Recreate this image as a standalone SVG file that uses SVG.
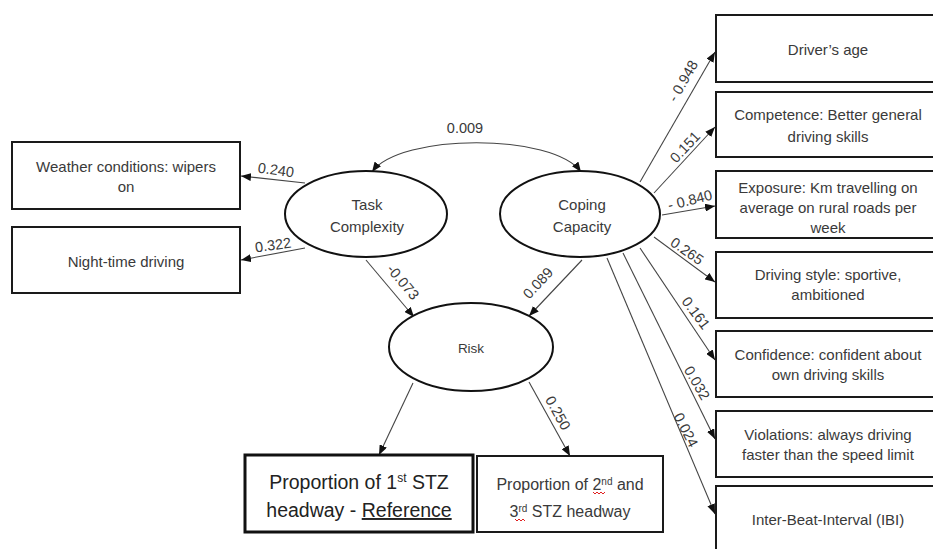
<svg xmlns="http://www.w3.org/2000/svg" width="933" height="549" viewBox="0 0 933 549">
<defs>
<style>
.box{fill:#fff;stroke:#1a1a1a;stroke-width:2}
.ell{fill:#fff;stroke:#111;stroke-width:2}
.t{font-family:"Liberation Sans",Arial,sans-serif;font-size:15px;fill:#3a3a3a;text-anchor:middle}
.lbl{font-family:"Liberation Sans",Arial,sans-serif;font-size:14.5px;fill:#3a3a3a;text-anchor:middle}
.con{fill:none;stroke:#444;stroke-width:1.1}
.sq{fill:none;stroke:#e02020;stroke-width:1}
</style>
<marker id="ah" viewBox="0 0 10 8" refX="10" refY="4" markerWidth="10" markerHeight="8" markerUnits="userSpaceOnUse" orient="auto-start-reverse">
<path d="M0,0 L10,4 L0,8 z" fill="#111"/>
</marker>
</defs>
<rect width="933" height="549" fill="#fff"/>

<g id="connectors">
<path class="con" d="M372,172 C400,133 553,133 581,172" marker-start="url(#ah)" marker-end="url(#ah)"/>
<path class="con" d="M305,183 L241,176" marker-end="url(#ah)"/>
<path class="con" d="M305,248 L241,260" marker-end="url(#ah)"/>
<path class="con" d="M366,260 L414,317" marker-end="url(#ah)"/>
<path class="con" d="M582,260 L529,316" marker-end="url(#ah)"/>
<path class="con" d="M413,383 L379,455" marker-end="url(#ah)"/>
<path class="con" d="M529,382 L570,456" marker-end="url(#ah)"/>
<path class="con" d="M640,182 L715,52" marker-end="url(#ah)"/>
<path class="con" d="M654,193 L715,127" marker-end="url(#ah)"/>
<path class="con" d="M662,215 L715,206" marker-end="url(#ah)"/>
<path class="con" d="M654,237 L715,282" marker-end="url(#ah)"/>
<path class="con" d="M640,248 L715,360" marker-end="url(#ah)"/>
<path class="con" d="M623,253 L715,439" marker-end="url(#ah)"/>
<path class="con" d="M607,258 L715,514" marker-end="url(#ah)"/>
</g>

<g id="coef-labels">
<text class="lbl" x="465" y="133">0.009</text>
<text class="lbl" transform="translate(276,170) rotate(8)" y="5">0.240</text>
<text class="lbl" transform="translate(273,245) rotate(-8)" y="5">0.322</text>
<text class="lbl" transform="translate(403,282) rotate(50)" y="5">-0.073</text>
<text class="lbl" transform="translate(538,283) rotate(-47)" y="5">0.089</text>
<text class="lbl" transform="translate(558,413) rotate(61)" y="5">0.250</text>
<text class="lbl" transform="translate(683,81) rotate(-60)" y="5">- 0.948</text>
<text class="lbl" transform="translate(685,147) rotate(-47)" y="5">0.151</text>
<text class="lbl" transform="translate(690,200) rotate(-14)" y="5">- 0.840</text>
<text class="lbl" transform="translate(687,251) rotate(35)" y="5">0.265</text>
<text class="lbl" transform="translate(696,313) rotate(53)" y="5">0.161</text>
<text class="lbl" transform="translate(697,383) rotate(60)" y="5">0.032</text>
<text class="lbl" transform="translate(686,430) rotate(63)" y="5">0.024</text>
</g>

<g id="weather">
<rect class="box" x="12" y="142" width="228" height="67"/>
<text class="t" x="126" y="172">Weather conditions: wipers</text>
<text class="t" x="126" y="192">on</text>
</g>
<g id="night">
<rect class="box" x="12" y="227" width="228" height="66"/>
<text class="t" x="126" y="267">Night-time driving</text>
</g>

<g id="task-complexity">
<ellipse class="ell" cx="366" cy="214" rx="81" ry="43"/>
<text class="t" x="367" y="210">Task</text>
<text class="t" x="367" y="232">Complexity</text>
</g>
<g id="coping-capacity">
<ellipse class="ell" cx="580" cy="214" rx="80" ry="43"/>
<text class="t" x="582" y="210">Coping</text>
<text class="t" x="582" y="232">Capacity</text>
</g>
<g id="risk">
<ellipse class="ell" cx="471" cy="347" rx="82" ry="44"/>
<text class="t" x="471" y="353" style="font-size:13.5px">Risk</text>
</g>

<g id="prop1">
<rect x="245" y="455" width="228" height="77" fill="#fff" stroke="#111" stroke-width="3"/>
<text class="t" x="359" y="489" style="font-size:19.5px;fill:#222">Proportion of 1<tspan baseline-shift="super" style="font-size:12px">st</tspan> STZ</text>
<text class="t" x="359" y="517" style="font-size:19.5px;fill:#222">headway - <tspan text-decoration="underline">Reference</tspan></text>
</g>
<g id="prop2">
<rect class="box" x="477" y="456" width="186" height="76"/>
<text class="t" x="570" y="490" style="font-size:16px">Proportion of 2<tspan baseline-shift="super" style="font-size:10px">nd</tspan> and</text>
<text class="t" x="570" y="517" style="font-size:16px">3<tspan baseline-shift="super" style="font-size:10px">rd</tspan> STZ headway</text>
<path class="sq" d="M593,492 l2,2 l2,-2 l2,2 l2,-2 l2,2 l2,-2"/>
<path class="sq" d="M515,519 l2,2 l2,-2 l2,2 l2,-2 l2,2"/>
</g>

<g id="drivers-age">
<rect class="box" x="716" y="15" width="230" height="67"/>
<text class="t" x="828" y="55">Driver’s age</text>
</g>
<g id="competence">
<rect class="box" x="716" y="92" width="230" height="65"/>
<text class="t" x="828" y="120">Competence: Better general</text>
<text class="t" x="828" y="142">driving skills</text>
</g>
<g id="exposure">
<rect class="box" x="716" y="171" width="230" height="67"/>
<text class="t" x="828" y="193">Exposure: Km travelling on</text>
<text class="t" x="828" y="213">average on rural roads per</text>
<text class="t" x="828" y="233">week</text>
</g>
<g id="driving-style">
<rect class="box" x="716" y="252" width="230" height="66"/>
<text class="t" x="828" y="280">Driving style: sportive,</text>
<text class="t" x="828" y="300">ambitioned</text>
</g>
<g id="confidence">
<rect class="box" x="716" y="331" width="230" height="66"/>
<text class="t" x="828" y="360">Confidence: confident about</text>
<text class="t" x="828" y="380">own driving skills</text>
</g>
<g id="violations">
<rect class="box" x="716" y="411" width="230" height="66"/>
<text class="t" x="828" y="440">Violations: always driving</text>
<text class="t" x="828" y="460">faster than the speed limit</text>
</g>
<g id="ibi">
<rect class="box" x="716" y="486" width="230" height="80"/>
<text class="t" x="828" y="525">Inter-Beat-Interval (IBI)</text>
</g>
</svg>
